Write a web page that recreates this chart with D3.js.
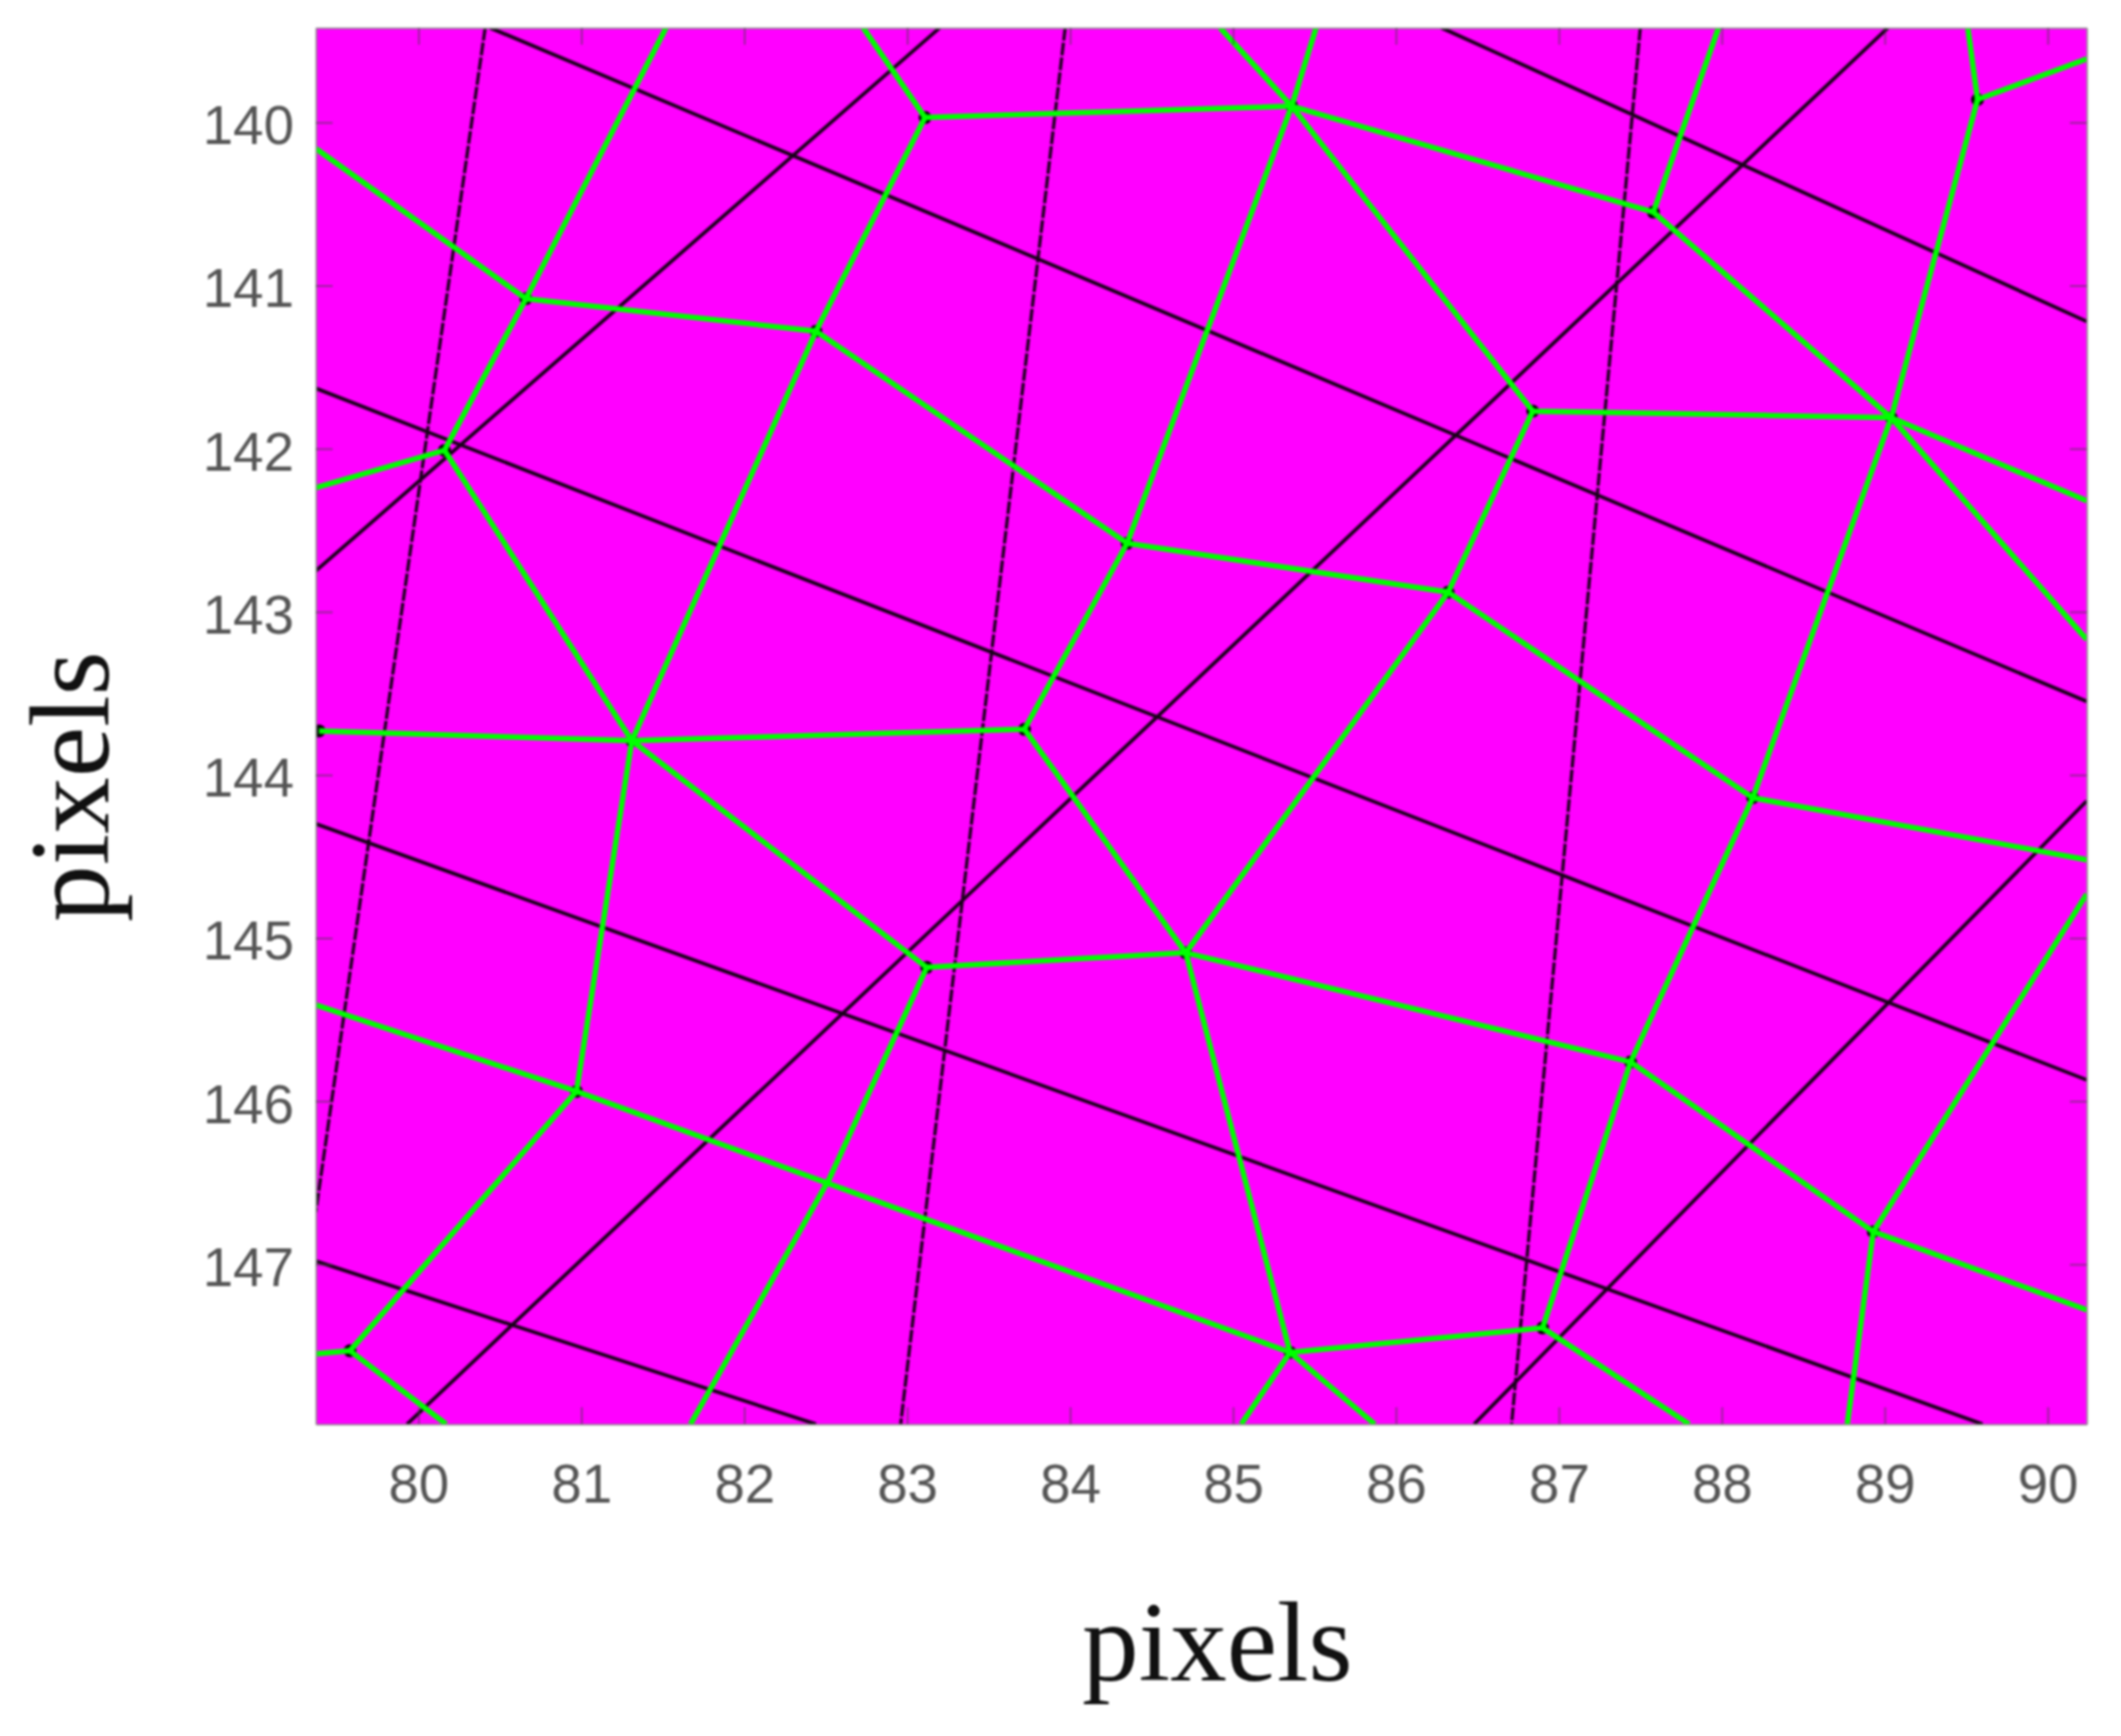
<!DOCTYPE html>
<html>
<head>
<meta charset="utf-8">
<title>pixels</title>
<script src="https://d3js.org/d3.v7.min.js"></script>
<style>
  html, body { margin: 0; padding: 0; background: #fff; }
  svg { display: block; }
  .tick text { font-family: "Liberation Sans", Arial, sans-serif; font-size: 55px; fill: #555; }
  .axis-label { font-family: "Liberation Serif", serif; font-size: 114px; fill: #111; text-anchor: middle; }
</style>
</head>
<body>
<div id="chart"></div>
<script>
// Axis ranges and ticks
const xDomain = [79.37, 90.24];
const yDomain = [139.42, 147.98];
const xTicks = [80, 81, 82, 83, 84, 85, 86, 87, 88, 89, 90];
const yTicks = [140, 141, 142, 143, 144, 145, 146, 147];

// Black lattice lines, nearly vertical ones come out dashed
const steepLines = [
  [[80.41, 139.42], [79.37, 146.68]],
  [[83.97, 139.42], [82.96, 147.98]],
  [[87.50, 139.42], [86.71, 147.98]]
];
const latticeLines = [
  [[86.28, 139.42], [90.24, 141.22]],
  [[80.44, 139.42], [90.24, 143.55]],
  [[79.37, 141.63], [90.24, 145.87]],
  [[79.37, 144.30], [89.60, 147.98]],
  [[79.37, 146.98], [82.44, 147.98]],
  [[79.37, 142.75], [83.20, 139.42]],
  [[79.93, 147.98], [89.02, 139.42]],
  [[86.48, 147.98], [90.24, 144.16]]
];

// Green cell corners
const cellNodes = [
  [83.11, 139.97], [85.36, 139.90], [87.58, 140.55], [89.57, 139.86],
  [80.66, 141.08], [82.44, 141.28], [80.16, 142.01], [86.84, 141.77],
  [89.04, 141.81], [84.35, 142.58], [86.32, 142.88], [81.31, 143.79],
  [83.72, 143.72], [88.19, 144.14], [79.39, 143.73], [83.12, 145.18],
  [84.71, 145.09], [87.44, 145.76], [80.97, 145.94], [88.93, 146.80],
  [85.35, 147.54], [86.90, 147.39], [79.58, 147.53]
];

// Green cell edges
const cellEdges = [
  [[82.73, 139.42], [83.11, 139.97], [85.36, 139.90], [84.92, 139.42]],
  [[85.51, 139.42], [85.36, 139.90], [87.58, 140.55], [87.98, 139.42]],
  [[87.58, 140.55], [89.04, 141.81], [90.24, 142.32]],
  [[89.51, 139.42], [89.57, 139.86], [90.24, 139.61]],
  [[89.57, 139.86], [89.04, 141.81], [90.24, 143.17]],
  [[83.11, 139.97], [82.44, 141.28], [80.66, 141.08], [79.37, 140.16]],
  [[81.52, 139.42], [80.66, 141.08], [80.16, 142.01], [79.37, 142.24]],
  [[80.16, 142.01], [81.31, 143.79], [82.44, 141.28], [84.35, 142.58], [85.36, 139.90]],
  [[85.36, 139.90], [86.84, 141.77], [89.04, 141.81], [88.19, 144.14], [87.44, 145.76]],
  [[84.35, 142.58], [86.32, 142.88], [86.84, 141.77]],
  [[86.32, 142.88], [88.19, 144.14], [90.24, 144.52]],
  [[84.35, 142.58], [83.72, 143.72], [81.31, 143.79], [79.39, 143.73]],
  [[86.32, 142.88], [84.71, 145.09], [83.72, 143.72]],
  [[81.31, 143.79], [83.12, 145.18], [84.71, 145.09], [87.44, 145.76], [88.93, 146.80], [90.24, 147.28]],
  [[83.12, 145.18], [82.52, 146.48], [81.67, 147.98]],
  [[81.31, 143.79], [80.97, 145.94], [79.58, 147.53], [79.37, 147.55]],
  [[79.58, 147.53], [80.17, 147.98]],
  [[79.37, 145.41], [80.97, 145.94], [85.35, 147.54], [84.71, 145.09]],
  [[85.05, 147.98], [85.35, 147.54], [85.87, 147.98]],
  [[85.35, 147.54], [86.90, 147.39], [87.80, 147.98]],
  [[86.90, 147.39], [87.44, 145.76]],
  [[90.24, 144.73], [88.93, 146.80], [88.77, 147.98]]
];

const width = 2136;
const height = 1748;
const plot = { left: 318, right: 2101.5, top: 28, bottom: 1434 };

const x = d3.scaleLinear().domain(xDomain).range([plot.left, plot.right]);
const y = d3.scaleLinear().domain(yDomain).range([plot.top, plot.bottom]);

const svg = d3.select('#chart').append('svg')
  .attr('width', width).attr('height', height)
  .style('filter', 'blur(0.9px)');

svg.append('defs').append('clipPath').attr('id', 'plotClip')
  .append('rect')
  .attr('x', plot.left).attr('y', plot.top)
  .attr('width', plot.right - plot.left).attr('height', plot.bottom - plot.top);

svg.append('rect')
  .attr('x', plot.left).attr('y', plot.top)
  .attr('width', plot.right - plot.left).attr('height', plot.bottom - plot.top)
  .attr('fill', '#ff00ff');

const g = svg.append('g').attr('clip-path', 'url(#plotClip)');
const line = d3.line().x(d => x(d[0])).y(d => y(d[1]));

g.selectAll('path.steep').data(steepLines).join('path')
  .attr('class', 'steep')
  .attr('d', line).attr('fill', 'none')
  .attr('stroke', '#1a001a').attr('stroke-width', 3.2)
  .attr('stroke-dasharray', '13 2');

g.selectAll('path.lattice').data(latticeLines).join('path')
  .attr('class', 'lattice')
  .attr('d', line).attr('fill', 'none')
  .attr('stroke', '#1a001a').attr('stroke-width', 3.6);

g.selectAll('circle').data(cellNodes).join('circle')
  .attr('cx', d => x(d[0])).attr('cy', d => y(d[1]))
  .attr('r', 6.5).attr('fill', '#000');

g.selectAll('path.edge').data(cellEdges).join('path')
  .attr('class', 'edge')
  .attr('d', line).attr('fill', 'none')
  .attr('stroke', '#00ff00').attr('stroke-width', 5.5)
  .attr('stroke-linejoin', 'round');

// Box axes, ticks point inward on all four sides
const tickLen = 17;
function styleAxis(sel) {
  sel.select('.domain').attr('stroke', '#8a8a8a').attr('stroke-width', 1.5);
  sel.selectAll('.tick line').attr('stroke', '#404040').attr('stroke-opacity', 0.5).attr('stroke-width', 2);
}

svg.append('g').attr('transform', `translate(0,${plot.bottom})`)
  .call(d3.axisBottom(x).tickValues(xTicks).tickSizeInner(-tickLen).tickSizeOuter(0).tickPadding(40))
  .call(styleAxis);
svg.append('g').attr('transform', `translate(0,${plot.top})`)
  .call(d3.axisTop(x).tickValues(xTicks).tickSizeInner(-tickLen).tickSizeOuter(0).tickFormat(''))
  .call(styleAxis);
svg.append('g').attr('transform', `translate(${plot.left},0)`)
  .call(d3.axisLeft(y).tickValues(yTicks).tickSizeInner(-tickLen).tickSizeOuter(0).tickPadding(22))
  .call(styleAxis)
  .call(a => a.selectAll('.tick text').attr('dy', '0.39em'));
svg.append('g').attr('transform', `translate(${plot.right},0)`)
  .call(d3.axisRight(y).tickValues(yTicks).tickSizeInner(-tickLen).tickSizeOuter(0).tickFormat(''))
  .call(styleAxis);

// Axis titles
svg.append('text').attr('class', 'axis-label')
  .attr('x', 1226).attr('y', 1692).text('pixels');
svg.append('text').attr('class', 'axis-label')
  .attr('transform', 'translate(109,792) rotate(-90)').text('pixels');
</script>
</body>
</html>
